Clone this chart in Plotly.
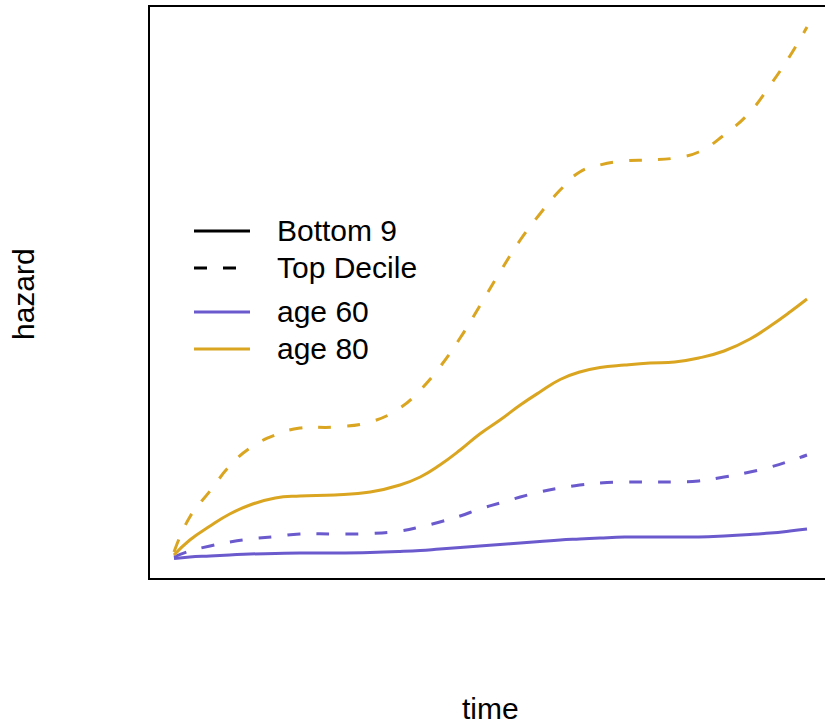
import plotly.graph_objects as go

# time grid and hazard values
time_pts = [0.00, 0.25, 0.57, 0.88, 1.20, 1.60, 1.99, 2.54, 3.10, 3.57, 3.89, 4.20, 4.52, 4.83, 5.15,
            5.47, 5.78, 6.10, 6.41, 6.73, 7.12, 7.52, 7.91, 8.29, 8.69, 9.10, 9.42, 9.73, 10.00]

age60_bottom = [-0.005, 0.01, 0.02, 0.03, 0.04, 0.045, 0.05, 0.05, 0.055, 0.065, 0.075, 0.09, 0.105, 0.12, 0.135,
                0.15, 0.165, 0.18, 0.19, 0.20, 0.21, 0.21, 0.21, 0.21, 0.22, 0.235, 0.25, 0.27, 0.29]
age60_top = [0.01, 0.07, 0.12, 0.16, 0.19, 0.215, 0.24, 0.24, 0.245, 0.27, 0.31, 0.36, 0.42, 0.49, 0.55,
             0.61, 0.66, 0.70, 0.73, 0.75, 0.76, 0.76, 0.76, 0.77, 0.81, 0.86, 0.91, 0.97, 1.03]
age80_bottom = [0.03, 0.18, 0.32, 0.44, 0.53, 0.60, 0.62, 0.63, 0.66, 0.73, 0.81, 0.93, 1.08, 1.24, 1.38,
                1.53, 1.66, 1.785, 1.86, 1.905, 1.93, 1.95, 1.96, 2.00, 2.07, 2.19, 2.32, 2.46, 2.59]
age80_top = [0.06, 0.41, 0.67, 0.92, 1.10, 1.23, 1.30, 1.31, 1.36, 1.50, 1.68, 1.91, 2.20, 2.52, 2.86,
             3.18, 3.44, 3.68, 3.86, 3.93, 3.97, 3.98, 4.00, 4.06, 4.23, 4.46, 4.73, 5.02, 5.31]

series_names = ["Bottom 9", "Top Decile"]
age_names = ["age 60", "age 80"]
age_colors = ["#6A5ACD", "#DAA520"]
DASH = "13px,16px"

fig = go.Figure()
for vals, col, dash in [(age60_bottom, age_colors[0], "solid"),
                        (age60_top, age_colors[0], DASH),
                        (age80_bottom, age_colors[1], "solid"),
                        (age80_top, age_colors[1], DASH)]:
    fig.add_trace(go.Scatter(x=time_pts, y=vals, mode="lines",
                             line=dict(color=col, width=3, dash=dash, shape="spline", smoothing=1.3),
                             showlegend=False, hoverinfo="skip"))

W, H = 825, 725
L, R, T, B = 149, 0, 6, 146
pw = W - L - R
ph = H - T - B

def px(x):
    return (x - L) / pw

def py(y):
    return (H - B - y) / ph

# frame (right edge falls outside the canvas)
fig.add_shape(type="rect", xref="paper", yref="paper", x0=0, x1=(834 - L) / pw, y0=0, y1=1,
              line=dict(color="black", width=2))

# legend
FS = 30
leg_rows = [(231, series_names[0], "black", "solid"),
            (268, series_names[1], "black", DASH),
            (312, age_names[0], age_colors[0], "solid"),
            (349, age_names[1], age_colors[1], "solid")]
for yy, txt, col, dash in leg_rows:
    fig.add_shape(type="line", xref="paper", yref="paper", x0=px(194), x1=px(250), y0=py(yy), y1=py(yy),
                  line=dict(color=col, width=3, dash=dash))
    fig.add_annotation(xref="paper", yref="paper", x=px(275), y=py(yy - 1), text=txt, showarrow=False,
                       xanchor="left", yanchor="middle", font=dict(size=FS, color="black"))

fig.add_annotation(xref="paper", yref="paper", x=px(490), y=py(708), text="time", showarrow=False,
                   xanchor="center", yanchor="middle", font=dict(size=FS, color="black"))
fig.add_annotation(xref="paper", yref="paper", x=px(23), y=py(294), text="hazard", showarrow=False,
                   textangle=-90, xanchor="center", yanchor="middle", font=dict(size=FS, color="black"))

x_lo = -25 / 63.3
x_hi = (W - 174) / 63.3
fig.update_layout(
    width=W, height=H,
    margin=dict(l=L, r=R, t=T, b=B, pad=0),
    paper_bgcolor="white", plot_bgcolor="white",
    font=dict(family="Liberation Sans, Arial, sans-serif", color="black"),
    xaxis=dict(range=[x_lo, x_hi], showgrid=False, zeroline=False, showticklabels=False, ticks="", showline=False),
    yaxis=dict(range=[-0.21, 5.52], showgrid=False, zeroline=False, showticklabels=False, ticks="", showline=False),
)
fig.write_html("out.html")
